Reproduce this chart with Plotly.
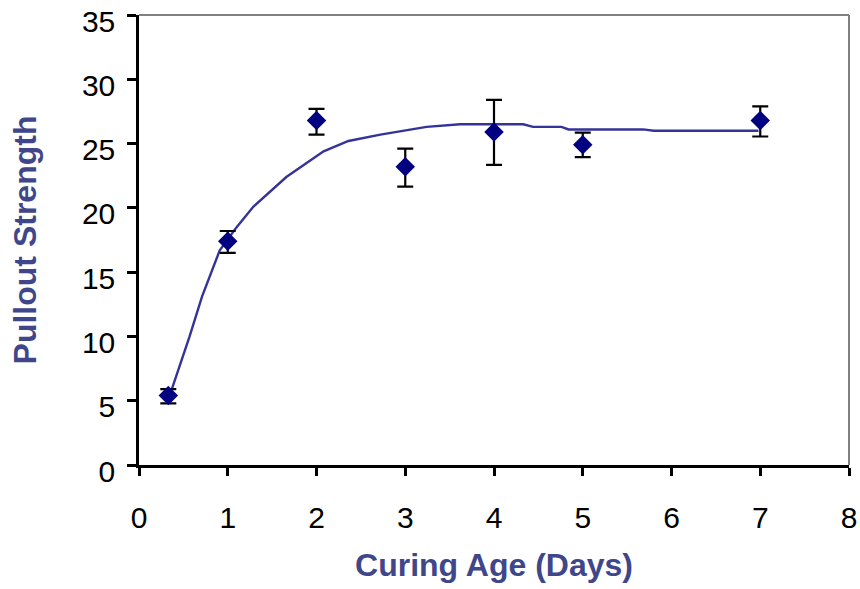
import plotly.graph_objects as go

# Measured data points
age_days = [0.33, 1, 2, 3, 4, 5, 7]
strength = [5.4, 17.4, 26.8, 23.2, 25.9, 24.9, 26.8]
err_plus = [0.5, 0.8, 0.9, 1.4, 2.5, 0.95, 1.1]
err_minus = [0.6, 0.9, 1.1, 1.55, 2.55, 0.95, 1.25]

# Fitted curve
fit_x = [0.37, 0.57, 0.71, 0.91, 1.10, 1.29, 1.66, 2.08, 2.36, 2.72, 3.24, 3.62,
         4.33, 4.44, 4.76, 4.84, 5.68, 5.80, 6.98]
fit_y = [5.9, 10.0, 13.1, 16.7, 18.5, 20.1, 22.4, 24.4, 25.2, 25.7, 26.3, 26.5,
         26.5, 26.3, 26.3, 26.1, 26.1, 26.0, 26.0]

x_ticks = [0, 1, 2, 3, 4, 5, 6, 7, 8]
y_ticks = [0, 5, 10, 15, 20, 25, 30, 35]

title_color = "#3F468A"
font_family = "Liberation Sans, Arial, sans-serif"

fig = go.Figure()
fig.add_trace(go.Scatter(
    x=fit_x, y=fit_y, mode="lines",
    line=dict(color="#333399", width=2.4),
    showlegend=False, hoverinfo="skip",
))
fig.add_trace(go.Scatter(
    x=age_days, y=strength, mode="markers",
    marker=dict(symbol="diamond", size=15, color="#000080"),
    error_y=dict(type="data", symmetric=False, array=err_plus, arrayminus=err_minus,
                 color="black", thickness=2.2, width=8),
    showlegend=False,
))

fig.update_layout(
    width=860, height=589,
    margin=dict(l=139, r=11, t=15, b=124),
    paper_bgcolor="white", plot_bgcolor="white",
    font=dict(family=font_family, size=30, color="black"),
    xaxis=dict(
        range=[0, 8], tickvals=x_ticks, ticktext=[str(v) for v in x_ticks],
        showgrid=False, zeroline=False, automargin=False,
        showline=True, linecolor="black", linewidth=2.5,
        ticks="outside", ticklen=8, tickwidth=2.5, tickcolor="black",
        ticklabelstandoff=16, ticklabeloverflow="allow",
        title=dict(text="Curing Age (Days)", standoff=21,
                   font=dict(family=font_family, size=32, color=title_color, weight="bold")),
    ),
    yaxis=dict(
        range=[0, 35], tickvals=y_ticks, ticktext=[str(v) for v in y_ticks],
        showgrid=False, zeroline=False, automargin=False,
        showline=True, linecolor="black", linewidth=2.5,
        ticks="outside", ticklen=9, tickwidth=2.5, tickcolor="black",
        ticklabelstandoff=6, ticklabelshift=6, ticklabeloverflow="allow",
        title=dict(text="Pullout Strength", standoff=36,
                   font=dict(family=font_family, size=32, color=title_color, weight="bold")),
    ),
    shapes=[
        dict(type="line", xref="paper", yref="paper", x0=0, x1=1, y0=1, y1=1,
             line=dict(color="#808080", width=2)),
        dict(type="line", xref="paper", yref="paper", x0=1, x1=1, y0=0, y1=1,
             line=dict(color="#808080", width=2)),
    ],
)

fig.write_html("out.html")
